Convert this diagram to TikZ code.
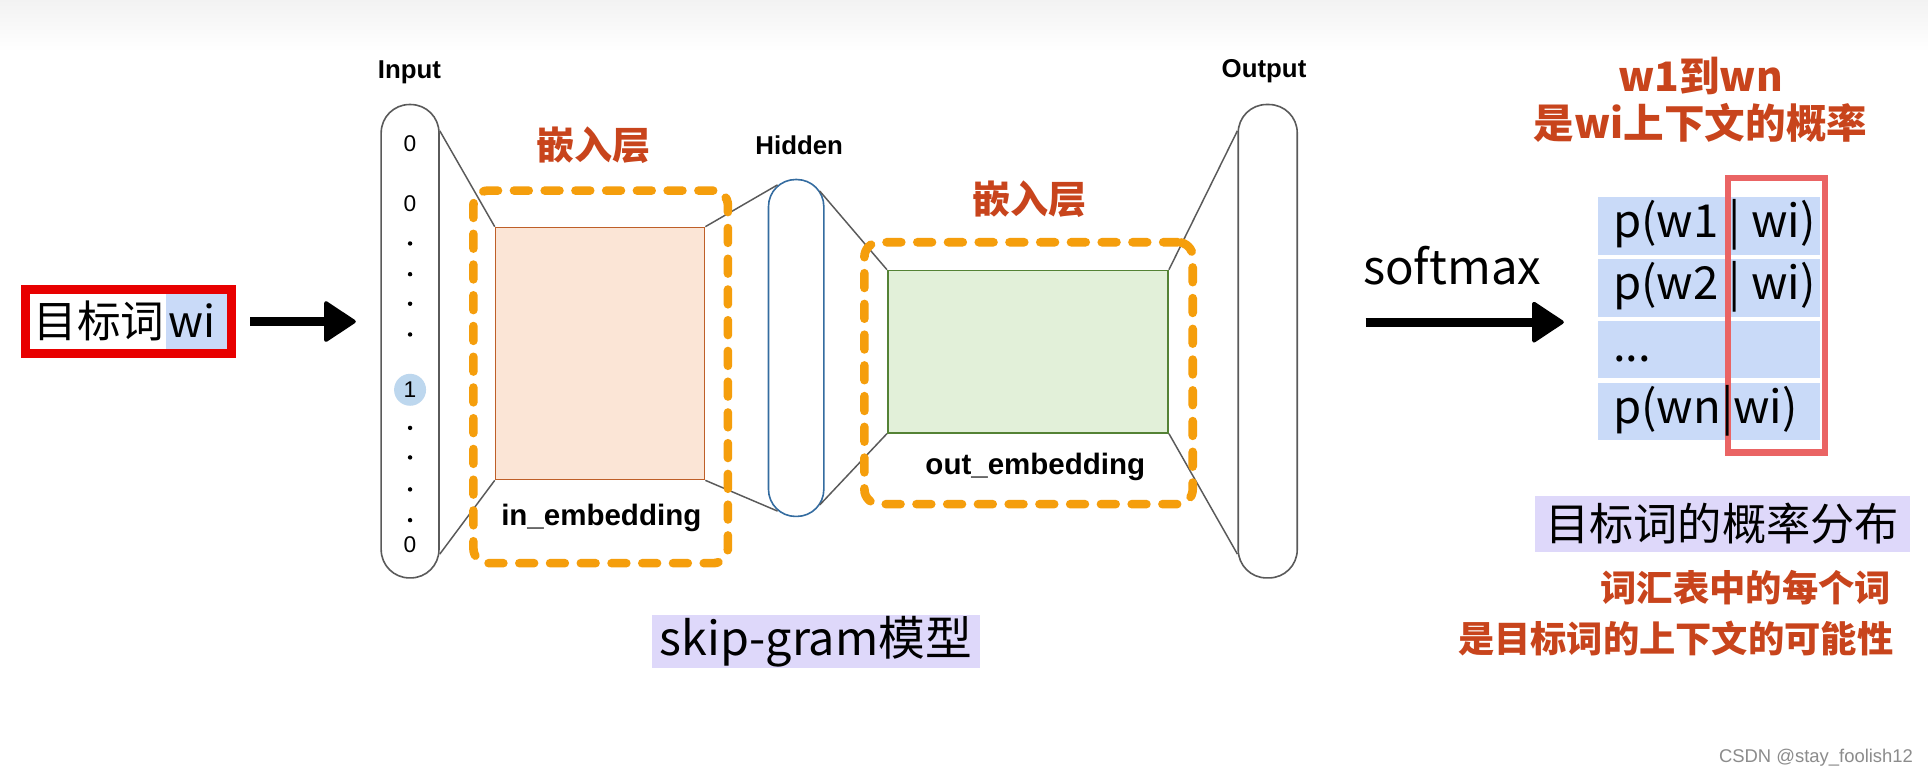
\documentclass[tikz,border=0pt]{standalone}
\usepackage{fontspec}
\setmainfont{Liberation Sans}
\newfontfamily\cjk{Noto Sans CJK SC}
\usetikzlibrary{arrows.meta,positioning,fit}
\definecolor{targetred}{RGB}{232,0,0}
\definecolor{wiblue}{RGB}{201,218,248}
\definecolor{capgray}{RGB}{90,90,90}
\definecolor{hiddenblue}{RGB}{52,108,160}
\definecolor{infill}{RGB}{251,229,214}
\definecolor{indraw}{RGB}{190,95,40}
\definecolor{outfill}{RGB}{226,240,217}
\definecolor{outdraw}{RGB}{84,130,53}
\definecolor{dashorange}{RGB}{245,158,12}
\definecolor{labelred}{RGB}{200,68,28}
\definecolor{onecircle}{RGB}{189,215,238}
\definecolor{framered}{RGB}{234,100,100}
\definecolor{notepurple}{RGB}{222,216,250}

\begin{document}
\begin{tikzpicture}[
    x=1pt, y=-1pt,
    capsule/.style={rectangle, draw=capgray, line width=1.3pt, rounded corners=23pt, minimum width=47pt, minimum height=385pt, inner sep=0pt},
    layer/.style={rectangle, line width=1.3pt, inner sep=0pt},
    embbox/.style={rectangle, draw=dashorange, line width=7pt, line cap=round, dash pattern=on 12pt off 13pt, rounded corners=12pt, inner sep=0pt},
    link/.style={draw=capgray, line width=1.2pt},
    bigarrow/.style={-{Triangle[length=27pt, width=35pt, round, line width=3pt]}, line width=7.5pt},
    netlabel/.style={font=\fontsize{21}{24}\selectfont\bfseries},
    emblabel/.style={font=\fontsize{24}{28}\selectfont\bfseries},
    redtitle/.style={font=\cjk\bfseries\fontsize{31}{36}\selectfont, text=labelred},
    note/.style={font=\cjk\bfseries\fontsize{29.5}{34}\selectfont, text=labelred, inner sep=0pt},
    digit/.style={font=\fontsize{18.5}{20}\selectfont},
    probrow/.style={rectangle, fill=wiblue, minimum width=180pt, minimum height=47pt, inner sep=0pt},
    probtext/.style={anchor=west, inner sep=0pt, text height=27pt, text depth=8pt, font=\cjk\fontsize{37}{40}\selectfont},
    tagbox/.style={rectangle, fill=notepurple, inner sep=0pt, font=\cjk\fontsize{36}{40}\selectfont}
]
\useasboundingbox (0,0) rectangle (1568,633);
\fill[white] (0,0) rectangle (1568,633);
\shade[top color=black!5, bottom color=white] (0,0) rectangle (1568,42);

% Target word
\node[inner sep=0pt, inner xsep=3pt, inner ysep=5.5pt, text height=30pt, text depth=4pt, anchor=west, font=\cjk\fontsize{35.5}{40}\selectfont] (tgtword) at (24,261.5) {目标词};
\node[fill=wiblue, inner sep=0pt, inner xsep=2pt, inner ysep=5.5pt, text height=30pt, text depth=4pt, right=-2pt of tgtword, font=\cjk\fontsize{35.5}{40}\selectfont] (tgtwi) {wi\kern7pt};
\node[draw=targetred, line width=7pt, inner sep=3.5pt, fit=(tgtword)(tgtwi)] (target) {};

% Network layers
\node[capsule] (input) at (333.5,277.5) {};
\node[capsule, draw=hiddenblue, rounded corners=22pt, minimum width=45pt, minimum height=274pt] (hidden) at (647.5,283) {};
\node[capsule, minimum width=48pt] (output) at (1031,277.5) {};
\node[layer, draw=indraw, fill=infill, minimum width=170pt, minimum height=205pt] (inemb) at (488,287.5) {};
\node[layer, draw=outdraw, fill=outfill, minimum width=228pt, minimum height=132pt] (outemb) at (836,286) {};

% One-hot input
\node[digit] (d1) at (333.5,117) {0};
\node[digit] (d2) at (333.5,166) {0};
\node[digit, circle, fill=onecircle, minimum size=26pt, inner sep=0pt] (dhot) at (333.5,317) {1};
\node[digit] (dn) at (333.5,443) {0};
\foreach \y in {198,223,247,272,348,372,398,423}
    \fill (333.5,\y) circle (1.8pt);

% Connections
\draw[link] ([yshift=-22pt]input.north east) -- (inemb.north west);
\draw[link] ([yshift=20pt]input.south east) -- (inemb.south west);
\draw[link] (inemb.north east) -- ([xshift=8pt,yshift=-5pt]hidden.north west);
\draw[link] (inemb.south east) -- ([xshift=8pt,yshift=5pt]hidden.south west);
\draw[link] ([xshift=-4pt,yshift=-10pt]hidden.north east) -- (outemb.north west);
\draw[link] ([xshift=-4pt,yshift=10pt]hidden.south east) -- (outemb.south west);
\draw[link] (outemb.north east) -- ([yshift=-22pt]output.north west);
\draw[link] (outemb.south east) -- ([yshift=20pt]output.south west);

% Embedding frames
\node[embbox, minimum width=207pt, minimum height=303pt] (inbox) at (488.5,306.5) {};
\node[embbox, minimum width=267pt, minimum height=213pt] (outbox) at (836.5,303.5) {};

% Labels
\node[netlabel] (inputlabel) at (333,59) {Input};
\node[netlabel] (hiddenlabel) at (650,118) {Hidden};
\node[netlabel] (outputlabel) at (1028,58) {Output};
\node[redtitle] (intitle) at (483,118) {嵌入层};
\node[redtitle] (outtitle) at (837,162) {嵌入层};
\node[emblabel] (inname) at (489,421) {in\_embedding};
\node[emblabel] (outname) at (842,380) {out\_embedding};
\node[tagbox, minimum width=267pt, minimum height=43pt, font=\cjk\fontsize{38}{40}\selectfont] (modelname) at (663.5,521.5) {skip-gram模型};

% Arrows
\draw[bigarrow, shorten <=12pt, shorten >=20pt] (target.east) -- (target.east -| input.west);
\node[font=\cjk\fontsize{38.5}{44}\selectfont] (softmax) at (1181,216) {softmax};

% Probabilities
\node[probrow] (row1) at (1390,183.5) {};
\node[probrow, below=3pt of row1] (row2) {};
\node[probrow, below=3pt of row2] (row3) {};
\node[probrow, below=3pt of row3] (row4) {};
\node[draw=framered, line width=5pt, minimum width=79pt, minimum height=223pt, inner sep=0pt] (ctxframe) at (1444.5,256.5) {};
\node[probtext] (p1) at ([xshift=12pt]row1.west) {p(w1 | wi)};
\node[probtext] (p2) at ([xshift=12pt]row2.west) {p(w2 | wi)};
\node[probtext] (p3) at ([xshift=12pt]row3.west) {...};
\node[probtext] (p4) at ([xshift=12pt]row4.west) {p(wn|wi)};
\draw[bigarrow, shorten <=55pt, shorten >=28pt] ([yshift=15.5pt]output.east) -- ([yshift=15.5pt]output.east -| row1.west);

\node[redtitle, font=\cjk\bfseries\fontsize{33}{36}\selectfont] (ctxnote1) at (1383,62) {w1到wn};
\node[redtitle, font=\cjk\bfseries\fontsize{33}{36}\selectfont] (ctxnote2) at (1383,100) {是wi上下文的概率};
\node[tagbox, minimum width=305pt, minimum height=46pt] (distlabel) at (1400.5,426) {目标词的概率分布};
\node[note, anchor=east] (note1) at (1538,478) {词汇表中的每个词};
\node[note, anchor=east] (note2) at (1540,519) {是目标词的上下文的可能性};

\node[anchor=east, inner sep=0pt, text=black!45, font=\fontsize{15}{18}\selectfont] (watermark) at (1556,616) {CSDN @stay\_foolish12};

\end{tikzpicture}
\end{document}
